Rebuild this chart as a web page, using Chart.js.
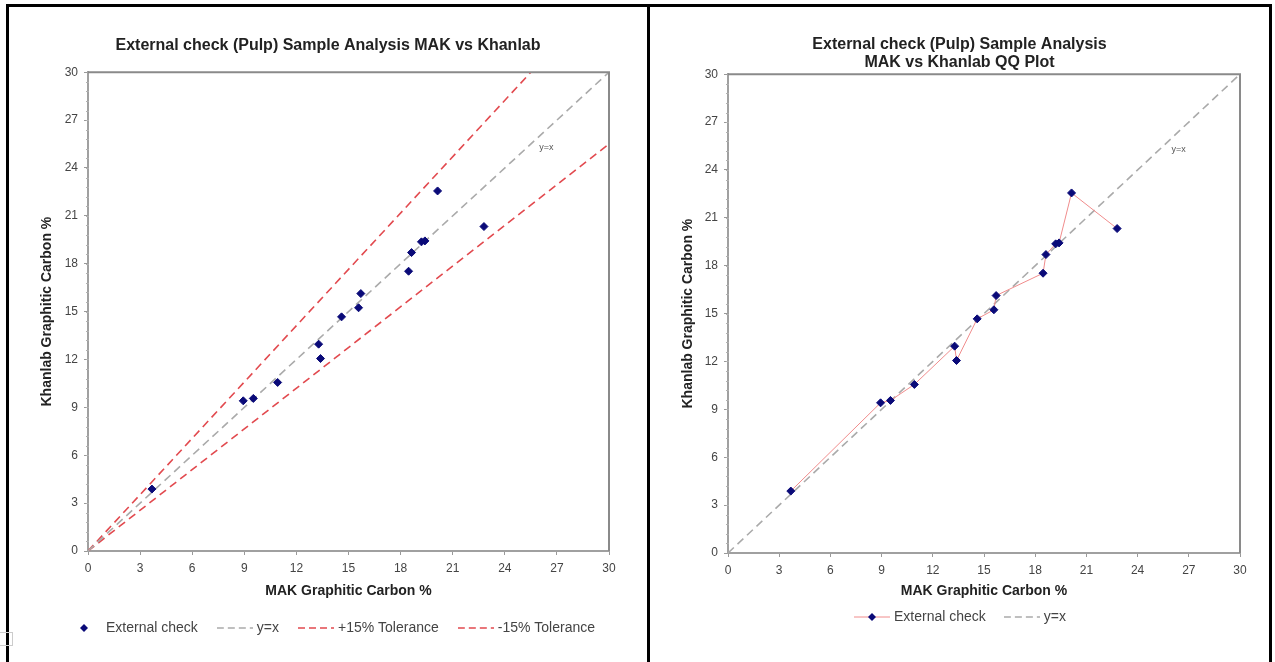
<!DOCTYPE html>
<html>
<head>
<meta charset="utf-8">
<script src="https://cdn.jsdelivr.net/npm/chart.js@4.4.0/dist/chart.umd.min.js"></script>
<style>
  body { margin: 0; background: #fff; width: 1275px; height: 662px; overflow: hidden; position: relative; }
  .rule { position: absolute; background: #000; }
  .cell { position: absolute; }
</style>
</head>
<body>
<div class="rule" style="left:6px;top:4px;width:1266px;height:3px"></div>
<div class="rule" style="left:6px;top:4px;width:3px;height:658px"></div>
<div class="rule" style="left:647px;top:4px;width:3px;height:658px"></div>
<div class="rule" style="left:1269px;top:4px;width:3px;height:658px"></div>
<div style="position:absolute;left:-1px;top:632px;width:12px;height:12px;border:1px solid #ccc"></div>

<div class="cell" style="left:10px;top:8px;width:636px;height:652px"><canvas id="pulpChart"></canvas></div>
<div class="cell" style="left:651px;top:8px;width:617px;height:652px"><canvas id="qqChart"></canvas></div>

<script>
// Data (MAK on x, Khanlab on y)
const makValues = [3.68, 8.94, 9.52, 10.92, 13.28, 13.39, 14.60, 15.58, 15.71, 18.46, 18.63, 19.20, 19.40, 20.13, 22.80];
const khanlabValues = [3.88, 9.41, 9.56, 10.56, 12.96, 12.06, 14.67, 15.24, 16.13, 17.53, 18.70, 19.37, 19.43, 22.56, 20.33];
const tickValues = [0, 3, 6, 9, 12, 15, 18, 21, 24, 27, 30];
const axisMax = 30;
const tolerance = 0.85; // +/-15% lines are y = x / 0.85 and y = 0.85x

const FONT = "'Liberation Sans', Arial, sans-serif";
const NAVY = '#0a0a78';
const GREY_LINE = '#aaaaaa';
const RED_LINE = '#e24a4f';
const PINK_LINE = '#f08c8c';

const points = makValues.map((x, i) => ({ x: x, y: khanlabValues[i] }));

// Axis frame, minor ticks and the small "y=x" note
const framePlugin = {
  id: 'frame',
  afterDraw(chart) {
    const { ctx, chartArea: a, scales } = chart;
    ctx.save();
    ctx.strokeStyle = '#8a8a8a';
    ctx.lineWidth = 2;
    ctx.beginPath();
    ctx.moveTo(a.left, a.top);
    ctx.lineTo(a.right, a.top);
    ctx.lineTo(a.right, a.bottom);
    ctx.stroke();
    // minor ticks on the y axis
    ctx.strokeStyle = '#b0b0b0';
    ctx.lineWidth = 1;
    for (let v = 0.6; v < axisMax; v += 0.6) {
      const py = Math.round(scales.y.getPixelForValue(v)) + 0.5;
      ctx.beginPath();
      ctx.moveTo(a.left - 2, py);
      ctx.lineTo(a.left + 1, py);
      ctx.stroke();
    }
    ctx.fillStyle = '#555';
    ctx.font = '9px ' + FONT;
    ctx.textAlign = 'center';
    ctx.textBaseline = 'middle';
    ctx.fillText('y=x', scales.x.getPixelForValue(26.4), scales.y.getPixelForValue(25.3));
    ctx.restore();
  }
};

// Title and legend are centred over the whole chart box, as in the source
const centrePlugin = {
  id: 'centre',
  afterLayout(chart, args, opts) {
    const dx = opts.legendShift || 0;
    const dy = opts.legendDy || 0;
    if (chart.titleBlock) { chart.titleBlock.left = 0; chart.titleBlock.right = chart.width; }
    if (chart.legend) {
      chart.legend.left = dx; chart.legend.right = chart.width + dx;
      chart.legend.top += dy; chart.legend.bottom += dy;
    }
  }
};

// Legend keys drawn as small images
function makeKey(kind, color) {
  const c = document.createElement('canvas');
  c.width = 36; c.height = 10;
  const k = c.getContext('2d');
  if (kind === 'dash') {
    k.strokeStyle = color; k.lineWidth = 1.6; k.setLineDash([7, 4]);
    k.beginPath(); k.moveTo(0, 5); k.lineTo(36, 5); k.stroke();
    return c;
  }
  if (kind === 'lineMarker') {
    k.strokeStyle = PINK_LINE; k.lineWidth = 1;
    k.beginPath(); k.moveTo(0, 5); k.lineTo(36, 5); k.stroke();
  }
  k.fillStyle = NAVY;
  k.beginPath(); k.moveTo(18, 1); k.lineTo(22, 5); k.lineTo(18, 9); k.lineTo(14, 5); k.closePath(); k.fill();
  return c;
}

function legendLabels(markerKey) {
  return chart => chart.data.datasets.map((ds, i) => ({
    text: ds.label,
    datasetIndex: i,
    fontColor: '#444',
    fillStyle: ds.borderColor,
    strokeStyle: ds.borderColor,
    lineWidth: 1,
    pointStyle: ds.borderDash ? makeKey('dash', ds.borderColor) : markerKey,
    hidden: false
  }));
}

function axes(yWidth, xHeight, xTitlePad) {
  const common = {
    type: 'linear',
    min: 0,
    max: axisMax,
    afterBuildTicks: s => { s.ticks = tickValues.map(v => ({ value: v })); },
    grid: { drawOnChartArea: false, drawTicks: true, tickLength: 4, color: '#999' },
    border: { color: '#a0a0a0', width: 2 },
    ticks: { color: '#444', font: { family: FONT, size: 12 }, padding: 6, maxRotation: 0 }
  };
  return {
    x: Object.assign({}, common, {
      afterFit: s => { s.height = xHeight; },
      title: { display: true, text: 'MAK Graphitic Carbon %', color: '#222',
               font: { family: FONT, size: 14, weight: 'bold' }, padding: { top: 0, bottom: xTitlePad } }
    }),
    y: Object.assign({}, common, {
      afterFit: s => { s.width = yWidth; },
      title: { display: true, text: 'Khanlab Graphitic Carbon %', color: '#222',
               font: { family: FONT, size: 14, weight: 'bold' }, padding: { top: 29, bottom: 0 } }
    })
  };
}

function legendOpts(markerKey, gap) {
  return {
    position: 'bottom',
    labels: {
      color: '#444',
      font: { family: FONT, size: 14 },
      usePointStyle: true,
      pointStyleWidth: 30,
      boxHeight: 8,
      padding: gap,
      generateLabels: legendLabels(markerKey)
    }
  };
}

// Left: scatter with tolerance lines
new Chart(document.getElementById('pulpChart'), {
  type: 'scatter',
  data: {
    datasets: [
      { label: 'External check', data: points, pointStyle: 'rectRot', pointRadius: 4,
        backgroundColor: NAVY, borderColor: NAVY, borderWidth: 1 },
      { label: 'y=x', data: [{ x: 0, y: 0 }, { x: axisMax, y: axisMax }], showLine: true,
        borderColor: GREY_LINE, borderDash: [8, 5], borderWidth: 1.6, pointRadius: 0 },
      { label: '+15% Tolerance', data: [{ x: 0, y: 0 }, { x: axisMax * tolerance, y: axisMax }], showLine: true,
        borderColor: RED_LINE, borderDash: [8, 5], borderWidth: 1.6, pointRadius: 0 },
      { label: '-15% Tolerance', data: [{ x: 0, y: 0 }, { x: axisMax, y: axisMax * tolerance }], showLine: true,
        borderColor: RED_LINE, borderDash: [8, 5], borderWidth: 1.6, pointRadius: 0 }
    ]
  },
  options: {
    responsive: true,
    maintainAspectRatio: false,
    animation: false,
    layout: { padding: { left: 0, right: 37, top: 0, bottom: 9 } },
    scales: axes(78, 54, 5),
    plugins: {
      title: { display: true, text: 'External check (Pulp) Sample Analysis MAK vs Khanlab', color: '#222',
               font: { family: FONT, size: 16, weight: 'bold', lineHeight: 1.2 }, padding: { top: 28, bottom: 17 } },
      legend: legendOpts(makeKey('marker'), 22),
      centre: { legendShift: 4, legendDy: -6 },
      tooltip: { enabled: false }
    }
  },
  plugins: [framePlugin, centrePlugin]
});

// Right: QQ plot
new Chart(document.getElementById('qqChart'), {
  type: 'scatter',
  data: {
    datasets: [
      { label: 'External check', data: points, showLine: true, borderColor: PINK_LINE, borderWidth: 1,
        pointStyle: 'rectRot', pointRadius: 4, pointBackgroundColor: NAVY, pointBorderColor: NAVY },
      { label: 'y=x', data: [{ x: 0, y: 0 }, { x: axisMax, y: axisMax }], showLine: true,
        borderColor: GREY_LINE, borderDash: [8, 5], borderWidth: 1.6, pointRadius: 0 }
    ]
  },
  options: {
    responsive: true,
    maintainAspectRatio: false,
    animation: false,
    layout: { padding: { left: 0, right: 28, top: 0, bottom: 15 } },
    scales: axes(77, 47, 0),
    plugins: {
      title: { display: true, text: ['External check (Pulp) Sample Analysis', 'MAK vs Khanlab QQ Plot'], color: '#222',
               font: { family: FONT, size: 16, weight: 'bold', lineHeight: 1.1 }, padding: { top: 28, bottom: 3 } },
      legend: legendOpts(makeKey('lineMarker'), 21),
      centre: { legendShift: 2, legendDy: -11 },
      tooltip: { enabled: false }
    }
  },
  plugins: [framePlugin, centrePlugin]
});
</script>
</body>
</html>
